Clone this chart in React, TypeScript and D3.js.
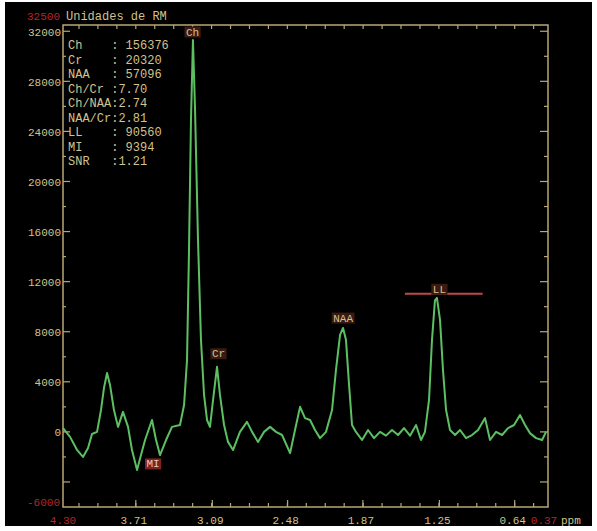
import React from 'react';
import * as d3 from 'd3';

// spectrum samples: chemical shift (ppm) and signal (Unidades de RM)
const ppm = [
  4.30, 4.243, 4.187, 4.138, 4.097, 4.065, 4.024, 3.992, 3.968, 3.943,
  3.919, 3.887, 3.854, 3.814, 3.773, 3.741, 3.70, 3.668, 3.635, 3.579,
  3.546, 3.514, 3.465, 3.417, 3.352, 3.319, 3.295, 3.279, 3.263, 3.247,
  3.230, 3.206, 3.182, 3.157, 3.133, 3.109, 3.084, 3.052, 3.028, 2.995,
  2.963, 2.922, 2.866, 2.809, 2.768, 2.720, 2.671, 2.622, 2.574, 2.525,
  2.460, 2.420, 2.379, 2.339, 2.298, 2.258, 2.217, 2.169, 2.120, 2.088,
  2.055, 2.031, 2.007, 1.982, 1.958, 1.926, 1.877, 1.828, 1.780, 1.731,
  1.683, 1.634, 1.585, 1.537, 1.488, 1.439, 1.399, 1.367, 1.334, 1.310,
  1.286, 1.270, 1.245, 1.221, 1.196, 1.164, 1.123, 1.083, 1.034, 0.986,
  0.937, 0.880, 0.840, 0.791, 0.742, 0.694, 0.645, 0.597, 0.556, 0.516,
  0.467, 0.418, 0.386,
];
const signal = [
  300, -400, -1430, -2000, -1290, -170, 0, 1750, 3500, 4700,
  3750, 1750, 400, 1600, 400, -1450, -3040, -1850, -650, 950,
  -650, -1850, -650, 400, 550, 2150, 5750, 14500, 24900, 31300,
  25700, 15300, 7350, 2950, 950, 400, 2550, 5200, 2950, 550,
  -800, -1450, 0, 800, 0, -800, 0, 400, 0, -250,
  -1700, 150, 2000, 1100, 950, 150, -500, 0, 1750, 4950,
  7750, 8300, 7350, 3750, 550, 0, -650, 150, -500, 0,
  -300, 150, -250, 300, -300, 550, -650, 0, 2550, 7350,
  10500, 10700, 8950, 4950, 1750, 150, -250, 150, -500, -250,
  150, 1100, -650, 0, -250, 300, 550, 1350, 550, -100,
  -500, -650, 0,
];

const xDomain = [4.30, 0.37];
const yDomain = [-6000, 32500];
const xTicks = [3.71, 3.09, 2.48, 1.87, 1.25, 0.64];
const yTicks = [0, 4000, 8000, 12000, 16000, 20000, 24000, 28000, 32000];

const infoNames = ['Ch', 'Cr', 'NAA', 'Ch/Cr', 'Ch/NAA', 'NAA/Cr', 'LL', 'MI', 'SNR'];
const infoValues = [' 156376', ' 20320', ' 57096', '7.70', '2.74', '2.81', ' 90560', ' 9394', '1.21'];

const peakNames = ['Ch', 'Cr', 'NAA', 'LL', 'MI'];
const peakAt = [3.25, 3.04, 2.03, 1.25, 3.57];
const peakLabelLevel = [31900, 6200, 9050, 11350, -2600];
const llRange = [1.53, 0.90];

const TAN = '#d2c28c';
const FRAME = '#b8a676';
const RED = '#b4262a';
const GREEN = '#5cc062';
const FONT = '"Liberation Mono", "DejaVu Sans Mono", monospace';

export default function App() {
  const x = d3.scaleLinear().domain(xDomain).range([63, 548]);
  const y = d3.scaleLinear().domain(yDomain).range([507, 25]);

  const path = d3.line<number>()
    .x((d, i) => x(ppm[i]))
    .y(d => y(d))(signal);

  // minor ticks every quarter of the labelled step
  const step = (xTicks[0] - xTicks[xTicks.length - 1]) / (xTicks.length - 1) / 4;
  const xMinor: number[] = [];
  for (let v = xTicks[0] + step * 3; v > xDomain[1]; v -= step) {
    if (v < xDomain[0]) xMinor.push(v);
  }
  const yMinor = d3.range(-4000, 32001, 2000);

  return (
    <svg width={597} height={531} style={{ position: 'absolute', left: 0, top: 0 }}
      fontFamily={FONT} fontSize={11}>
      <rect x={0} y={0} width={597} height={531} fill="#fff" />
      <rect x={5} y={2} width={587} height={524} fill="#000" />

      {/* title and axis limits */}
      <text x={60} y={20} fill={RED} textAnchor="end">{yDomain[1]}</text>
      <text x={66} y={20} fill={TAN} fontSize={12}>Unidades de RM</text>
      <text x={60} y={506} fill={RED} textAnchor="end">{yDomain[0]}</text>
      <text x={x(xDomain[0])} y={524} fill={RED} textAnchor="middle">{xDomain[0].toFixed(2)}</text>
      <text x={x(xDomain[1]) - 4} y={524} fill={RED} textAnchor="middle">{xDomain[1].toFixed(2)}</text>
      <text x={561} y={524} fill={TAN}>ppm</text>

      {/* frame */}
      <rect x={63} y={25} width={485} height={482} fill="none" stroke={FRAME} strokeWidth={1.5} />

      {yMinor.map(v => (
        <g key={'ym' + v}>
          <line x1={63} x2={v % 4000 === 0 ? 70 : 66} y1={y(v)} y2={y(v)} stroke={FRAME} strokeWidth={1.2} />
          <line x1={548} x2={v % 4000 === 0 ? 540 : 544} y1={y(v)} y2={y(v)} stroke={FRAME} strokeWidth={1.2} />
        </g>
      ))}
      {yTicks.map(v => (
        <text key={'yl' + v} x={61} y={y(v) + 4.5} fill={TAN} textAnchor="end">{v}</text>
      ))}

      {xMinor.map((v, i) => (
        <g key={'xm' + i}>
          <line x1={x(v)} x2={x(v)} y1={507} y2={503} stroke={FRAME} strokeWidth={1.2} />
          <line x1={x(v)} x2={x(v)} y1={25} y2={29} stroke={FRAME} strokeWidth={1.2} />
        </g>
      ))}
      {xTicks.map(v => (
        <g key={'xt' + v}>
          <line x1={x(v)} x2={x(v)} y1={507} y2={500} stroke={FRAME} strokeWidth={1.2} />
          <text x={x(v) - 2} y={524} fill={TAN} textAnchor="middle">{v.toFixed(2)}</text>
        </g>
      ))}

      {/* spectrum */}
      <path d={path ?? ''} fill="none" stroke={GREEN} strokeWidth={2} strokeLinejoin="round" />

      {/* LL baseline marker */}
      <line x1={x(llRange[0])} x2={x(llRange[1])} y1={y(peakLabelLevel[3]) + 4} y2={y(peakLabelLevel[3]) + 4}
        stroke="#c04848" strokeWidth={2} />

      {peakNames.map((n, i) => {
        const w = n.length * 6.6 + 3;
        const cx = x(peakAt[i]);
        const cy = y(peakLabelLevel[i]);
        return (
          <g key={'pk' + n}>
            <rect x={cx - w / 2} y={cy - 6} width={w} height={11} fill={i === 4 ? '#7a2424' : '#3c1a12'} />
            <text x={cx} y={cy + 3} fill={i === 4 ? '#e8c8c0' : TAN} textAnchor="middle">{n}</text>
          </g>
        );
      })}

      {/* quantification table */}
      {infoNames.map((n, i) => (
        <text key={'in' + n} x={68} y={49 + i * 14.5} fill={TAN} fontSize={12} style={{ whiteSpace: 'pre' }}>
          {n.padEnd(6, ' ') + ':' + infoValues[i]}
        </text>
      ))}
    </svg>
  );
}
